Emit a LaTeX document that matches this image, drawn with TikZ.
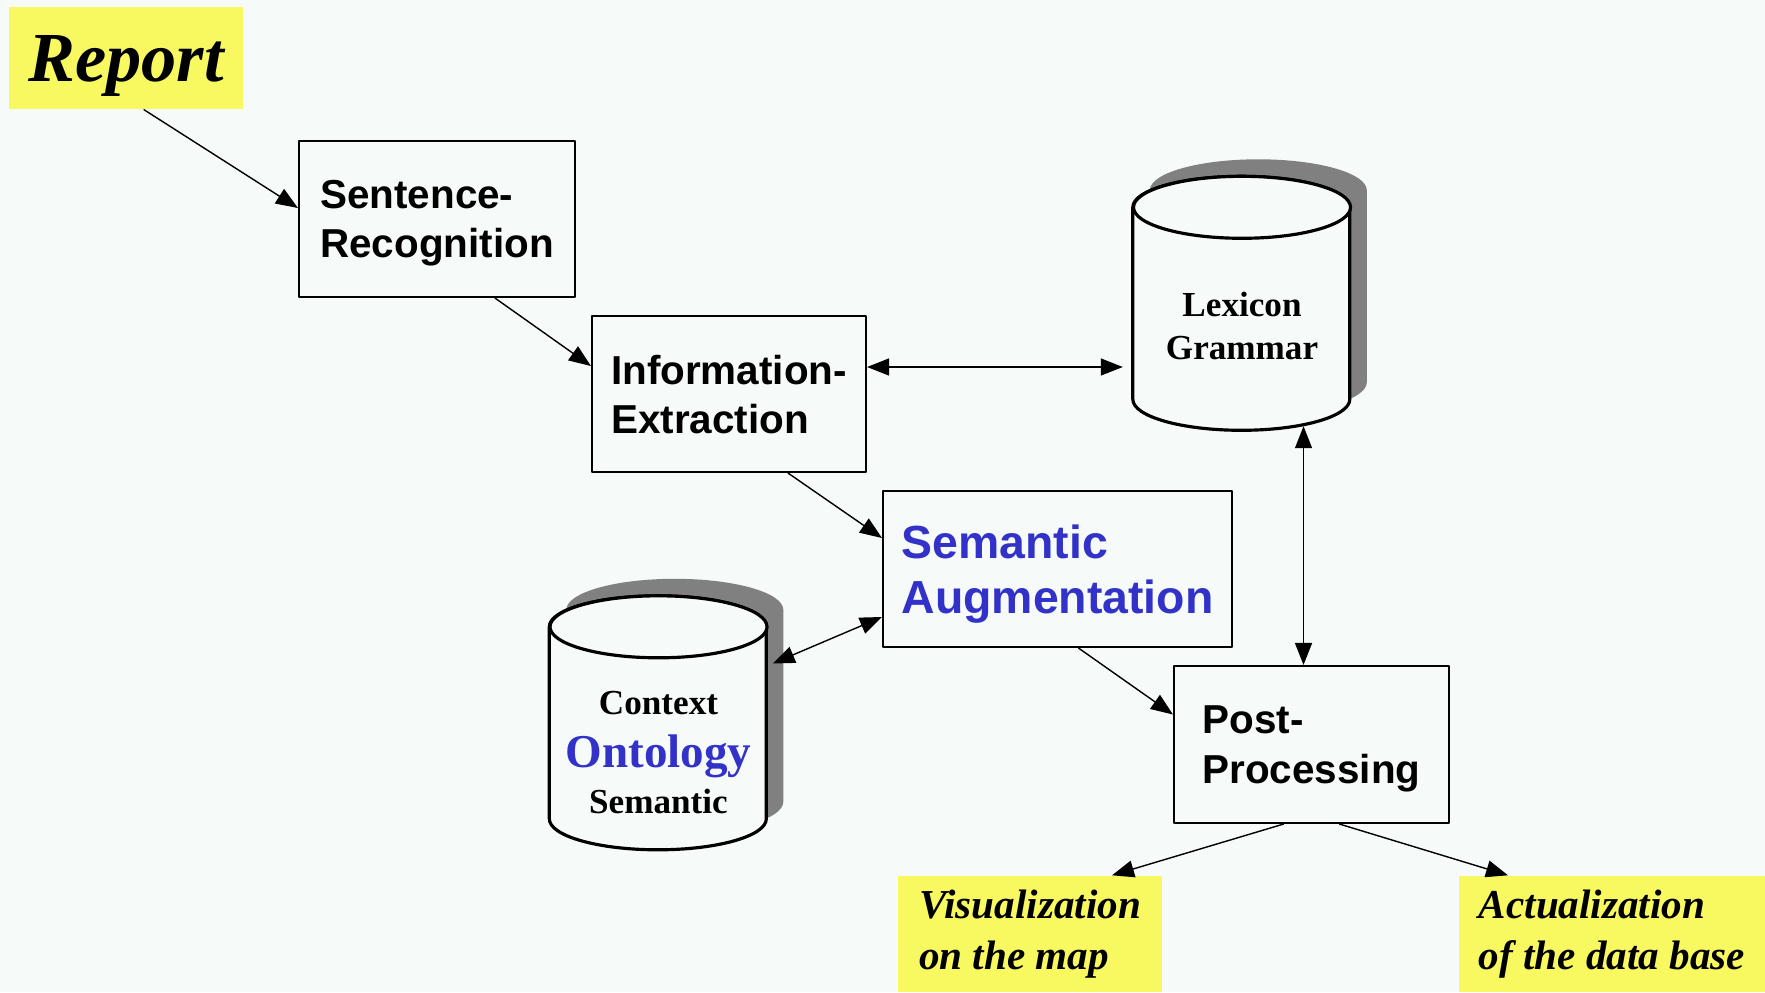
\documentclass[tikz,border=0pt]{standalone}
\usepackage{fontspec}
\setmainfont{Liberation Serif}
\setsansfont{Liberation Sans}
\usetikzlibrary{arrows.meta}
\definecolor{bgcol}{RGB}{246,250,248}
\definecolor{notecol}{RGB}{248,248,96}
\definecolor{semblue}{RGB}{50,50,200}
\definecolor{shadowcol}{RGB}{128,128,128}
\begin{document}
\begin{tikzpicture}[line cap=round, line join=round,
    >={Triangle[length=2.2mm,width=1.7mm]},
    procbox/.style={draw, line width=0.6pt, fill=bgcol, inner sep=0pt,
      minimum height=1.56cm, align=left, text depth=0pt,
      font=\sffamily\bfseries\fontsize{11.5}{14}\selectfont},
    notebox/.style={fill=notecol, inner sep=0pt, align=left,
      font=\bfseries\itshape\fontsize{11.7}{14.4}\selectfont},
    dbbox/.style={inner sep=0pt, minimum width=2.17cm, minimum height=2.54cm},
    dbtext/.style={inner sep=0pt, align=center,
      font=\bfseries\fontsize{10}{12}\selectfont},
    cyl/.style={line width=0.9pt, fill=bgcol},
    flow/.style={line width=0.4pt, ->}]
  \useasboundingbox (0,0) rectangle (17.65,9.92);
  \fill[bgcol] (0,0) rectangle (17.65,9.92);
  % notes
  \node[notebox, minimum width=2.34cm, minimum height=1.02cm, text depth=0pt,
    font=\bfseries\itshape\fontsize{20}{24}\selectfont] (report) at (1.26,9.34) {Report};
  \node[notebox, minimum width=2.64cm, minimum height=1.16cm] (vis) at (10.30,0.58) {Visualization\\on the map};
  \node[notebox, minimum width=3.06cm, minimum height=1.16cm] (act) at (16.12,0.58) {Actualization\\of the data base};
  % processing steps
  \node[procbox, minimum width=2.76cm] (sent) at (4.37,7.73) {Sentence-\\Recognition};
  \node[procbox, minimum width=2.74cm] (info) at (7.29,5.98) {Information-\\Extraction};
  \node[procbox, minimum width=3.49cm, text=semblue, text depth=-0.1cm,
    font=\sffamily\bfseries\fontsize{13.2}{15.6}\selectfont] (sem) at (10.575,4.23) {Semantic\\Augmentation};
  \node[procbox, minimum width=2.75cm, minimum height=1.57cm] (post) at (13.115,2.475) {Post-\\Processing};
  % data bases
  \node[dbbox] (lex) at (12.42,6.88) {};
  \fill[shadowcol] ([shift={(0.17,-0.14)}]lex.north west) -- ++(0,-1.92)
    arc[start angle=180, end angle=360, x radius=1.085, y radius=0.31] -- ++(0,1.92)
    arc[start angle=0, end angle=180, x radius=1.085, y radius=0.31] -- cycle;
  \draw[cyl] ([yshift=-0.31cm]lex.north west) -- ++(0,-1.92)
    arc[start angle=180, end angle=360, x radius=1.085, y radius=0.31] -- ++(0,1.92)
    arc[start angle=0, end angle=180, x radius=1.085, y radius=0.31] -- cycle;
  \draw[cyl] ([yshift=-0.31cm]lex.north) ellipse[x radius=1.085, y radius=0.31];
  \node[dbtext] (lextext) at ([yshift=-0.22cm]lex.center) {Lexicon\\Grammar};
  \node[dbbox] (ctx) at (6.585,2.685) {};
  \fill[shadowcol] ([shift={(0.17,-0.14)}]ctx.north west) -- ++(0,-1.92)
    arc[start angle=180, end angle=360, x radius=1.085, y radius=0.31] -- ++(0,1.92)
    arc[start angle=0, end angle=180, x radius=1.085, y radius=0.31] -- cycle;
  \draw[cyl] ([yshift=-0.31cm]ctx.north west) -- ++(0,-1.92)
    arc[start angle=180, end angle=360, x radius=1.085, y radius=0.31] -- ++(0,1.92)
    arc[start angle=0, end angle=180, x radius=1.085, y radius=0.31] -- cycle;
  \draw[cyl] ([yshift=-0.31cm]ctx.north) ellipse[x radius=1.085, y radius=0.31];
  \node[dbtext] (ctxtext) at ([yshift=-0.29cm]ctx.center)
    {Context\\[3pt]{\color{semblue}\fontsize{13.4}{13.4}\selectfont Ontology}\\[1pt]Semantic};
  % connectors
  \coordinate (infoout) at ([yshift=0.27cm]info.east);
  \coordinate (postin) at ([xshift=-0.08cm]post.north);
  \draw[flow] ([xshift=0.18cm]report.south) -- ([yshift=0.11cm]sent.west);
  \draw[flow] ([xshift=0.58cm]sent.south) -- ([yshift=0.28cm]info.west);
  \draw[flow, <->, shorten >=0.1cm] (infoout) -- (infoout -| lex.west);
  \draw[flow] ([xshift=0.59cm]info.south) -- ([yshift=0.31cm]sem.west);
  \draw[flow, <->] ([yshift=-0.48cm]sem.west) -- ([shift={(0.05,0.6)}]ctx.east);
  \draw[flow] ([xshift=0.21cm]sem.south) -- ([yshift=0.3cm]post.west);
  \draw[flow, <->, shorten >=-0.055cm] (postin) -- (postin |- lex.south);
  \draw[flow] ([xshift=-0.28cm]post.south) -- ([xshift=0.82cm]vis.north);
  \draw[flow] ([xshift=0.28cm]post.south) -- ([xshift=-1.04cm]act.north);
\end{tikzpicture}
\end{document}
